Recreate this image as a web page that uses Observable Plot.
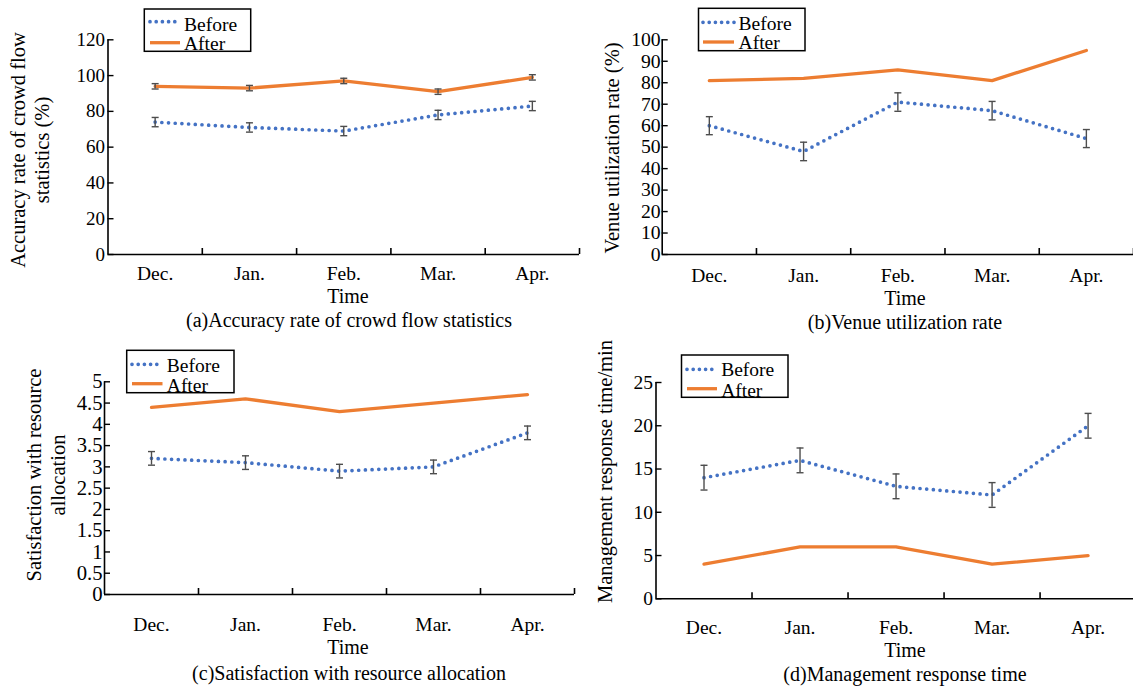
<!DOCTYPE html>
<html><head><meta charset="utf-8">
<script src="https://cdn.jsdelivr.net/npm/d3@7"></script>
<script src="https://cdn.jsdelivr.net/npm/@observablehq/plot@0.6"></script>
<style>
body{margin:0;background:#fff}
#root{position:relative;width:1133px;height:688px;overflow:hidden;font-family:"Liberation Serif","Times New Roman",serif}
#root svg{position:absolute;left:0;top:0}
</style>
</head><body><div id="root"></div>
<script>
const months = ["Dec.", "Jan.", "Feb.", "Mar.", "Apr."];

const accBefore = [74, 71, 69, 78, 83];
const accBeforeErr = [2.6, 2.6, 2.6, 2.6, 2.6];
const accAfter = [94, 93, 97, 91, 99];
const accAfterErr = [1.5, 1.5, 1.5, 1.5, 1.5];
const accTicks = [0, 20, 40, 60, 80, 100, 120];

const venueBefore = [60, 48, 71, 67, 54];
const venueBeforeErr = [4.2, 4.3, 4.3, 4.3, 4.2];
const venueAfter = [81, 82, 86, 81, 95];
const venueTicks = [0, 10, 20, 30, 40, 50, 60, 70, 80, 90, 100];

const satBefore = [3.2, 3.1, 2.9, 3.0, 3.8];
const satBeforeErr = [0.16, 0.16, 0.16, 0.16, 0.16];
const satAfter = [4.4, 4.6, 4.3, 4.5, 4.7];
const satTicks = [0, 0.5, 1, 1.5, 2, 2.5, 3, 3.5, 4, 4.5, 5];

const respBefore = [14, 16, 13, 12, 20];
const respBeforeErr = [1.43, 1.43, 1.43, 1.43, 1.43];
const respAfter = [4, 6, 6, 4, 5];
const respTicks = [0, 5, 10, 15, 20, 25];

const BLUE = "#4472C4", ORANGE = "#ED7D31", ERR = "#4d4d4d";
const W = 1133, H = 688;
const FONT = '"Liberation Serif","Times New Roman",serif';
const root = document.getElementById("root");

const capSymbol = {draw(ctx, size) { const r = Math.sqrt(size / Math.PI); ctx.moveTo(-r, 0); ctx.lineTo(r, 0); }};

function panel(c) {
  const before = months.map((m, i) => ({i, v: c.before[i], e: c.beforeErr ? c.beforeErr[i] : 0}));
  const after = months.map((m, i) => ({i, v: c.after[i], e: c.afterErr ? c.afterErr[i] : 0}));
  const marks = [
    Plot.line(after, {x: "i", y: "v", stroke: ORANGE, strokeWidth: 3.3, strokeLinejoin: "round"}),
    Plot.line(before, {x: "i", y: "v", stroke: BLUE, strokeWidth: 3.7, strokeDasharray: "0 6.7", strokeLinecap: "round"})
  ];
  const errSets = [];
  if (c.beforeErr) errSets.push(before);
  if (c.afterErr) errSets.push(after);
  for (const s of errSets) {
    marks.push(Plot.ruleX(s, {x: "i", y1: d => d.v - d.e, y2: d => d.v + d.e, stroke: ERR, strokeWidth: 1.4}));
    marks.push(Plot.dot(s, {x: "i", y: d => d.v + d.e, symbol: capSymbol, r: 3.5, fill: "none", stroke: ERR, strokeWidth: 1.4}));
    marks.push(Plot.dot(s, {x: "i", y: d => d.v - d.e, symbol: capSymbol, r: 3.5, fill: "none", stroke: ERR, strokeWidth: 1.4}));
  }
  marks.push(
    Plot.ruleY([0], {stroke: "#000", strokeWidth: 1.6}),
    Plot.ruleX([-0.5], {stroke: "#000", strokeWidth: 1.6}),
    Plot.axisY({ticks: c.yTicks, tickSize: 0, tickPadding: c.yPad, tickFormat: d => String(d), label: null, fontSize: c.yFont}),
    Plot.axisY({ticks: c.yTicks, tickSize: -6, tickFormat: () => "", label: null, strokeWidth: 1.4}),
    Plot.axisX({ticks: [0, 1, 2, 3, 4], tickSize: 0, tickPadding: c.xPad, tickFormat: i => months[i], label: null, fontSize: 19.5}),
    Plot.axisX({ticks: [0.5, 1.5, 2.5, 3.5, 4.5], tickSize: -6, tickFormat: () => "", label: null, strokeWidth: 1.6})
  );
  const svg = Plot.plot({
    width: W, height: H,
    marginLeft: c.L, marginRight: Math.max(0, W - c.R), marginTop: c.top, marginBottom: H - c.bottom,
    x: {type: "linear", domain: [-0.5, 4.5], range: [c.L, c.R]},
    y: {type: "linear", domain: [0, c.yMax], range: [c.bottom, c.top]},
    style: {background: "transparent", fontFamily: FONT, fontSize: "19px", color: "#000", overflow: "visible"},
    marks
  });
  svg.style.position = "absolute"; svg.style.left = "0px"; svg.style.top = "0px";
  root.appendChild(svg);
}

panel({L: 107.5, R: 579, top: 39.3, bottom: 254, yMax: 120, yTicks: accTicks, before: accBefore, beforeErr: accBeforeErr, after: accAfter, afterErr: accAfterErr, yPad: 3, xPad: 12, yFont: 19});
panel({L: 661.7, R: 1133, top: 39.3, bottom: 254, yMax: 100, yTicks: venueTicks, before: venueBefore, beforeErr: venueBeforeErr, after: venueAfter, afterErr: null, yPad: 1.5, xPad: 14, yFont: 19.7});
panel({L: 104, R: 574, top: 381.3, bottom: 594, yMax: 5, yTicks: satTicks, before: satBefore, beforeErr: satBeforeErr, after: satAfter, afterErr: null, yPad: 2, xPad: 23, yFont: 20.7});
panel({L: 655.5, R: 1135.6, top: 382, bottom: 598.3, yMax: 25, yTicks: respTicks, before: respBefore, beforeErr: respBeforeErr, after: respAfter, afterErr: null, yPad: 3, xPad: 21, yFont: 19.5});

// Overlay: axis titles, captions, legends
const ov = d3.select(root).append("svg").attr("width", W).attr("height", H)
  .style("font-family", FONT).style("overflow", "visible");

function txt(x, y, s, size, rot) {
  const t = ov.append("text").attr("x", x).attr("y", y).attr("text-anchor", "middle")
    .attr("font-size", size).attr("fill", "#000").text(s);
  if (rot) t.attr("transform", `rotate(-90 ${x} ${y})`);
  return t;
}
// x-axis titles
txt(348, 302.5, "Time", 20);
txt(905, 305, "Time", 20);
txt(348, 654, "Time", 20);
txt(905, 656.5, "Time", 20);
// captions
txt(349, 327, "(a)Accuracy rate of crowd flow statistics", 20);
txt(905, 329, "(b)Venue utilization rate", 20);
txt(349, 680, "(c)Satisfaction with resource allocation", 20);
txt(905, 681, "(d)Management response time", 20);
// y-axis titles
txt(24.6, 150, "Accuracy rate of crowd flow", 20.5, true);
txt(49.2, 150, "statistics (%)", 20.5, true);
txt(618.6, 148, "Venue utilization rate (%)", 20.5, true);
txt(40.6, 475, "Satisfaction with resource", 20.5, true);
txt(65.1, 475, "allocation", 20.5, true);
txt(612.3, 471.5, "Management response time/min", 20.5, true);

function legend(x0, y0, x1, y1, lx0, lx1, yb, ya, tx, bb, ba) {
  ov.append("rect").attr("x", x0).attr("y", y0).attr("width", x1 - x0).attr("height", y1 - y0)
    .attr("fill", "#fff").attr("stroke", "#000").attr("stroke-width", 1.5);
  ov.append("line").attr("x1", lx0).attr("x2", lx1).attr("y1", yb).attr("y2", yb)
    .attr("stroke", BLUE).attr("stroke-width", 3.7).attr("stroke-dasharray", "0 6.2").attr("stroke-linecap", "round");
  ov.append("line").attr("x1", lx0).attr("x2", lx1).attr("y1", ya).attr("y2", ya)
    .attr("stroke", ORANGE).attr("stroke-width", 3.3);
  ov.append("text").attr("x", tx).attr("y", bb).attr("font-size", 19.5).attr("fill", "#000").text("Before");
  ov.append("text").attr("x", tx).attr("y", ba).attr("font-size", 19.5).attr("fill", "#000").text("After");
}
legend(144.3, 9, 250.7, 51.3, 150, 180, 21.7, 42.7, 184, 30.5, 49.5);
legend(698.5, 8.3, 805, 50.7, 703, 734, 22.3, 42, 738.6, 29.5, 49.3);
legend(126.7, 350.3, 234, 392.7, 132, 162.5, 364.3, 383.7, 166.8, 372, 392);
legend(681.5, 355, 788, 397.3, 687, 717, 369.3, 388.7, 721.2, 376, 396.7);
</script>
</body></html>
